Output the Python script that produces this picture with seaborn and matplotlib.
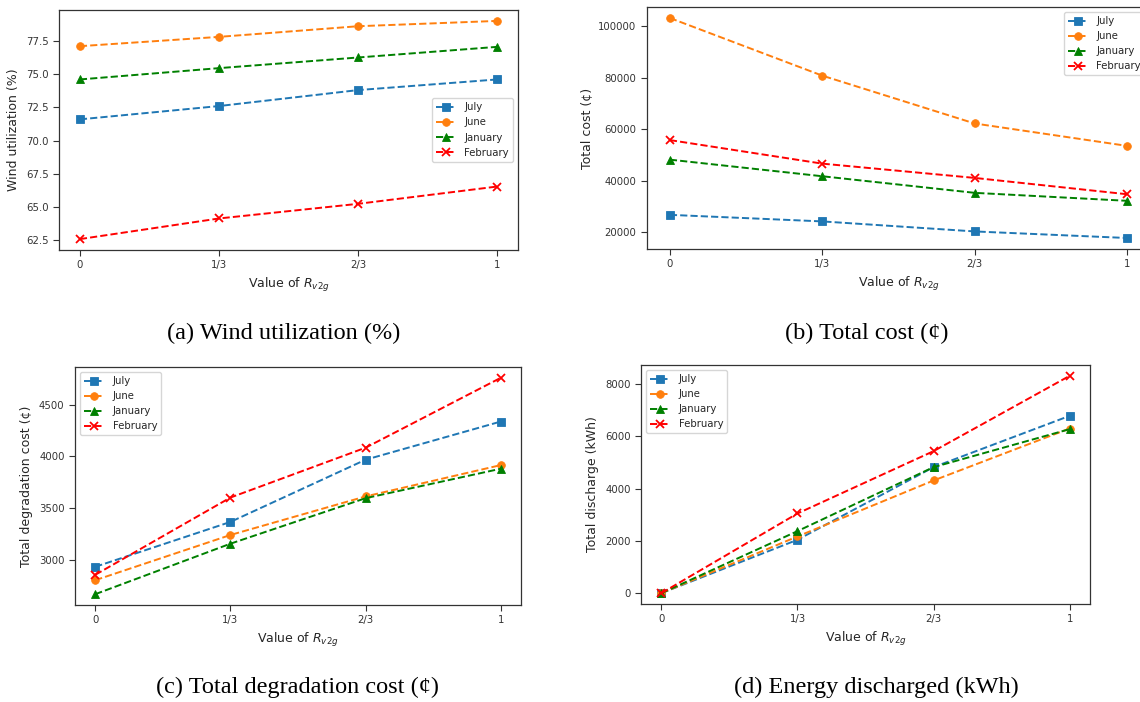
import matplotlib
matplotlib.use("Agg")
import matplotlib.pyplot as plt
import seaborn as sns
import numpy as np

# Share of V2G capability on the x axis
r_values = [0, 1/3, 2/3, 1]
r_labels = ["0", "1/3", "2/3", "1"]

months = ["July", "June", "January", "February"]
colors = ["#1f77b4", "#ff7f0e", "#008000", "#ff0000"]
markers = ["s", "o", "^", "x"]

# (a) Wind utilization (%)
wind_july = [71.6, 72.6, 73.8, 74.6]
wind_june = [77.1, 77.8, 78.6, 79.0]
wind_january = [74.6, 75.45, 76.25, 77.05]
wind_february = [62.6, 64.15, 65.25, 66.55]
wind_ticks = [62.5, 65.0, 67.5, 70.0, 72.5, 75.0, 77.5]

# (b) Total cost (cents)
cost_july = [26700, 24150, 20250, 17700]
cost_june = [103200, 80800, 62200, 53500]
cost_january = [48150, 41700, 35250, 32150]
cost_february = [55750, 46600, 41050, 34700]
cost_ticks = [20000, 40000, 60000, 80000, 100000]

# (c) Total degradation cost (cents)
deg_july = [2935, 3368, 3968, 4336]
deg_june = [2806, 3242, 3614, 3916]
deg_january = [2671, 3158, 3597, 3881]
deg_february = [2858, 3603, 4084, 4758]
deg_ticks = [3000, 3500, 4000, 4500]

# (d) Total discharge (kWh)
dis_july = [0, 2040, 4816, 6777]
dis_june = [0, 2166, 4306, 6293]
dis_january = [0, 2370, 4816, 6268]
dis_february = [0, 3045, 5427, 8306]
dis_ticks = [0, 2000, 4000, 6000, 8000]

panels = [
    ([wind_july, wind_june, wind_january, wind_february], wind_ticks,
     "Wind utilization (%)", "center right", "(a) Wind utilization (%)"),
    ([cost_july, cost_june, cost_january, cost_february], cost_ticks,
     "Total cost (¢)", "upper right", "(b) Total cost (¢)"),
    ([deg_july, deg_june, deg_january, deg_february], deg_ticks,
     "Total degradation cost (¢)", "upper left", "(c) Total degradation cost (¢)"),
    ([dis_july, dis_june, dis_january, dis_february], dis_ticks,
     "Total discharge (kWh)", "upper left", "(d) Energy discharged (kWh)"),
]

sns.set_style("ticks", {"axes.edgecolor": ".2", "xtick.color": ".2", "ytick.color": ".2",
                        "text.color": ".15", "axes.labelcolor": ".15"})
plt.rcParams["font.family"] = ["DejaVu Sans"]

W, H = 1140, 702
fig = plt.figure(figsize=(W / 100, H / 100), dpi=100)

# axes boxes in pixels: left, top, right, bottom
boxes = [
    (59, 10, 518, 250),
    (647, 7, 1150, 249),
    (75, 367, 521, 605),
    (641, 365, 1090, 604),
]
captions_xy = [(284, 333), (867, 333), (297, 687), (876, 687)]

for (series, yticks, ylabel, loc, caption), box, cxy in zip(panels, boxes, captions_xy):
    l, t, r, b = box
    ax = fig.add_axes([l / W, 1 - b / H, (r - l) / W, (b - t) / H])
    for vals, name, c, m in zip(series, months, colors, markers):
        sns.lineplot(x=r_values, y=vals, ax=ax, color=c, marker=m, linestyle="--",
                     linewidth=1.4, markersize=5.5 if m != "x" else 6,
                     markeredgewidth=1.3 if m == "x" else 0.6,
                     markeredgecolor=c, label=name)
    ax.set_xticks(r_values)
    ax.set_xticklabels(r_labels)
    ax.set_yticks(yticks)
    ax.tick_params(labelsize=7.3, length=4, width=0.8)
    for s in ax.spines.values():
        s.set_linewidth(0.9)
    ax.set_xlabel(r"Value of $R_{v2g}$", fontsize=9)
    ax.set_ylabel(ylabel, fontsize=9)
    leg = ax.legend(loc=loc, fontsize=7.3, frameon=True)
    leg.get_frame().set_edgecolor("#cccccc")
    fig.text(cxy[0] / W, 1 - cxy[1] / H, caption, ha="center", va="center",
             fontsize=17.5, family="Liberation Serif", color="black")

fig.savefig("out.png", dpi=100)
